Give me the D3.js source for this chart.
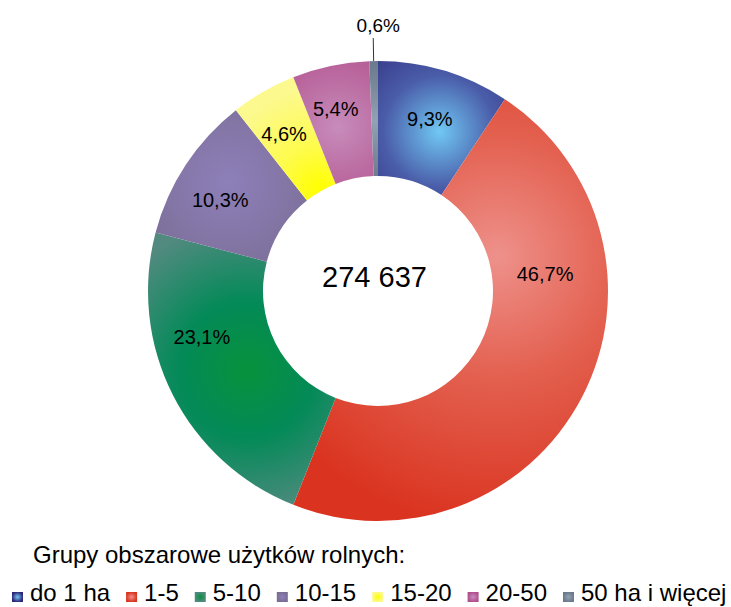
<!DOCTYPE html>
<html>
<head>
<meta charset="utf-8">
<script src="https://cdn.jsdelivr.net/npm/d3@7"></script>
<style>
  html, body { margin: 0; padding: 0; background: #fff; }
  svg { display: block; }
</style>
</head>
<body>
<div id="chart"></div>
<script>
// values (share of farms, %)
var categories = ["do 1 ha", "1-5", "5-10", "10-15", "15-20", "20-50", "50 ha i więcej"];
var shares = [9.3, 46.7, 23.1, 10.3, 4.6, 5.4, 0.6];
var centerLabel = "274 637";
var legendTitle = "Grupy obszarowe użytków rolnych:";

// look of each slice: gradient colours, where the light spot sits, label nudges
var sliceStyle = [
    { stops: ["#70c8f4", "#4a5ca8", "#2c2777"], spot: 0.63, spotR: 171, gradR: 125, labelShift: 0, labelR: 180 },
    { stops: ["#ee918b", "#e3604f", "#da3420"], spot: 0.24, spotR: 124, gradR: 270, labelShift: -33.5, labelR: 168 },
    { stops: ["#06923c", "#038a58", "#528a80"], spot: 0.45, spotR: 153, gradR: 150, labelShift: 12.2, labelR: 182 },
    { stops: ["#8d80ba", "#8577a8", "#7a6d94"], spot: 0.57, spotR: 185, gradR: 110, labelShift: -3.4, labelR: 182 },
    { stops: ["#ffff00", "#fefb50", "#fcf98e"], spot: 0.5, spotR: 118, gradR: 100, labelShift: -1, labelR: 183 },
    { stops: ["#c78cbb", "#bc6ea3", "#b14f8c"], spot: 0.4, spotR: 169, gradR: 100, labelShift: -1.2, labelR: 187 },
    { stops: ["#93a3b3", "#7e8ea0", "#6a7a8c"], spot: 0.5, spotR: 170, gradR: 60, labelShift: 0, labelR: 0 }
];

var config = {
    width: 731,
    height: 607,
    cx: 378,
    cy: 291,
    outerR: 230,
    innerR: 115,
    font: "'Liberation Sans', Arial, sans-serif",
    labelSize: 20,
    centerSize: 29,
    legendSize: 24
};

var fmt = function (v) { return d3.format(".1f")(v).replace(".", ",") + "%"; };

var svg = d3.select("#chart").append("svg")
    .attr("width", config.width)
    .attr("height", config.height);

var defs = svg.append("defs");

var pie = d3.pie().sort(null).value(function (d) { return d; });
var arcs = pie(shares);

var arc = d3.arc().innerRadius(config.innerR).outerRadius(config.outerR);

// point at angle a (radians, 0 = top, clockwise) and radius r, relative to the ring centre
function polar(a, r) {
    return [r * Math.sin(a), -r * Math.cos(a)];
}

// one radial gradient per slice, centred on the slice's light spot
arcs.forEach(function (d, i) {
    var s = sliceStyle[i];
    var a = d.startAngle + (d.endAngle - d.startAngle) * s.spot;
    var p = polar(a, s.spotR);
    var g = defs.append("radialGradient")
        .attr("id", "slice" + i)
        .attr("gradientUnits", "userSpaceOnUse")
        .attr("cx", p[0]).attr("cy", p[1])
        .attr("fx", p[0]).attr("fy", p[1])
        .attr("r", s.gradR);
    g.append("stop").attr("offset", "0%").attr("stop-color", s.stops[0]);
    g.append("stop").attr("offset", "45%").attr("stop-color", s.stops[1]);
    g.append("stop").attr("offset", "100%").attr("stop-color", s.stops[2]);

    var m = defs.append("radialGradient").attr("id", "mark" + i);
    m.append("stop").attr("offset", "0%").attr("stop-color", s.stops[0]);
    m.append("stop").attr("offset", "100%").attr("stop-color", s.stops[2]);
});

var ring = svg.append("g")
    .attr("transform", "translate(" + config.cx + "," + config.cy + ")");

ring.selectAll("path.slice")
    .data(arcs)
    .enter().append("path")
    .attr("class", "slice")
    .attr("d", arc)
    .attr("fill", function (d, i) { return "url(#slice" + i + ")"; });

// data labels inside the ring
var deg = Math.PI / 180;
var inside = arcs.filter(function (d, i) { return sliceStyle[i].labelR > 0; });
ring.selectAll("text.value")
    .data(inside)
    .enter().append("text")
    .attr("class", "value")
    .attr("x", function (d) {
        var s = sliceStyle[d.index];
        return polar((d.startAngle + d.endAngle) / 2 + s.labelShift * deg, s.labelR)[0];
    })
    .attr("y", function (d) {
        var s = sliceStyle[d.index];
        return polar((d.startAngle + d.endAngle) / 2 + s.labelShift * deg, s.labelR)[1];
    })
    .attr("dy", "0.35em")
    .attr("text-anchor", "middle")
    .attr("font-family", config.font)
    .attr("font-size", config.labelSize)
    .attr("fill", "#000")
    .text(function (d) { return fmt(d.data); });

// the thin slice gets its label outside with a leader line
var small = arcs[arcs.length - 1];
var midA = (small.startAngle + small.endAngle) / 2;
var p0 = polar(midA, config.outerR);
var p1 = polar(midA, config.outerR + 23);
ring.append("line")
    .attr("x1", p0[0]).attr("y1", p0[1])
    .attr("x2", p1[0]).attr("y2", p1[1])
    .attr("stroke", "#333")
    .attr("stroke-width", 1);
ring.append("text")
    .attr("x", p1[0] + 5)
    .attr("y", p1[1] - 6)
    .attr("text-anchor", "middle")
    .attr("font-family", config.font)
    .attr("font-size", 19)
    .attr("fill", "#000")
    .text(fmt(small.data));

// total in the hole
ring.append("text")
    .attr("x", -3.5)
    .attr("y", -4)
    .attr("text-anchor", "middle")
    .attr("font-family", config.font)
    .attr("font-size", config.centerSize)
    .attr("fill", "#000")
    .text(centerLabel);

// legend
svg.append("text")
    .attr("x", 33)
    .attr("y", 563)
    .attr("font-family", config.font)
    .attr("font-size", config.legendSize)
    .attr("fill", "#000")
    .text(legendTitle);

var legend = svg.append("g").attr("class", "legend");
var items = legend.selectAll("g")
    .data(categories)
    .enter().append("g");

items.append("rect")
    .attr("width", 11)
    .attr("height", 10)
    .attr("y", 592)
    .attr("fill", function (d, i) { return "url(#mark" + i + ")"; });

items.append("text")
    .attr("x", 18)
    .attr("y", 601)
    .attr("font-family", config.font)
    .attr("font-size", config.legendSize)
    .attr("fill", "#000")
    .text(function (d) { return d; });

// lay the items out one after another by their text widths
var x = 12;
items.each(function () {
    var g = d3.select(this);
    g.attr("transform", "translate(" + x + ",0)");
    x += 18 + g.select("text").node().getComputedTextLength() + 16;
});
</script>
</body>
</html>
